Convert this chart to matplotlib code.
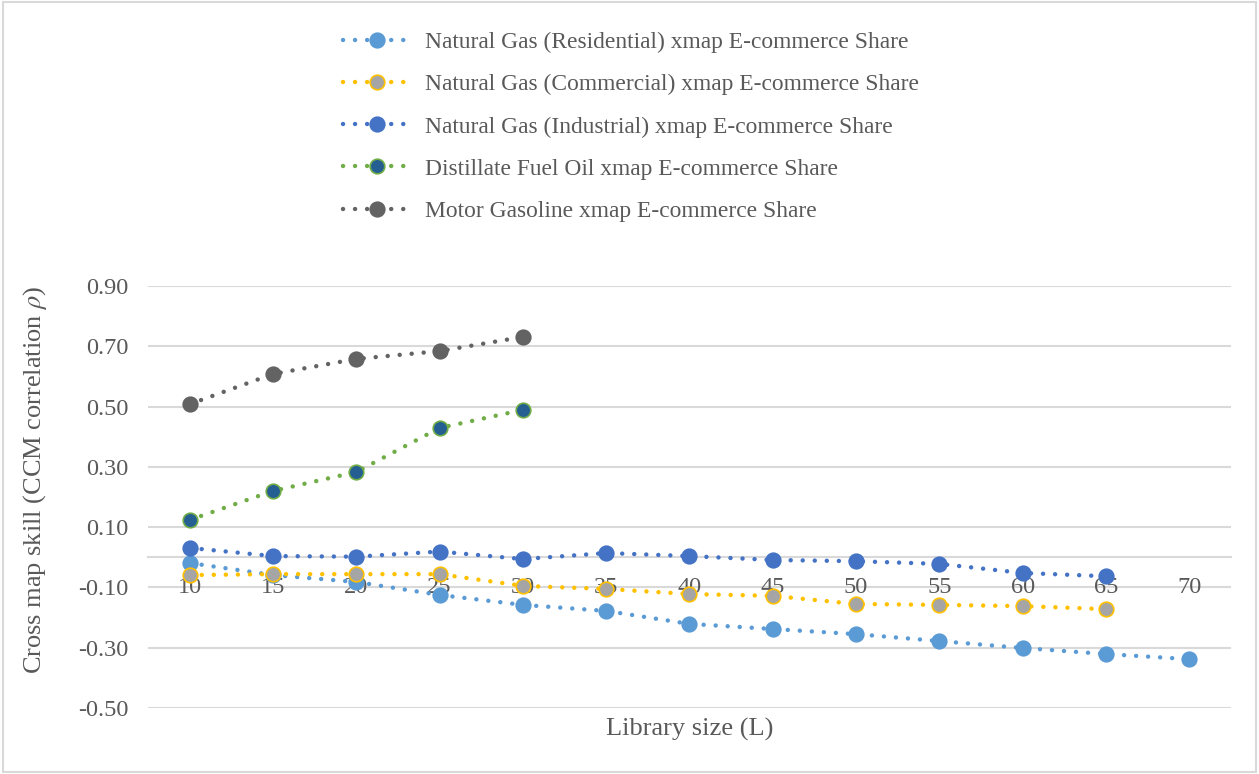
import matplotlib.pyplot as plt
from matplotlib.patches import Rectangle

plt.rcParams['font.family'] = ['Liberation Serif', 'DejaVu Serif']
plt.rcParams['mathtext.fontset'] = 'stix'

# library sizes and CCM skill per series
L_long = [10, 15, 20, 25, 30, 35, 40, 45, 50, 55, 60, 65, 70]
L_mid = [10, 15, 20, 25, 30, 35, 40, 45, 50, 55, 60, 65]
L_short = [10, 15, 20, 25, 30]

residential = [-0.019, -0.059, -0.082, -0.125, -0.158, -0.178, -0.221,
               -0.238, -0.255, -0.278, -0.301, -0.321, -0.338]
commercial = [-0.059, -0.056, -0.056, -0.056, -0.095, -0.105, -0.122,
              -0.128, -0.155, -0.158, -0.162, -0.172]
industrial = [0.031, 0.004, 0.002, 0.019, -0.006, 0.014, 0.004,
              -0.009, -0.013, -0.022, -0.052, -0.063]
distillate = [0.124, 0.220, 0.283, 0.429, 0.489]
gasoline = [0.508, 0.608, 0.658, 0.684, 0.731]

series = [
    (L_long, residential, 'Natural Gas (Residential) xmap E-commerce Share', '#5B9BD5', '#5B9BD5'),
    (L_mid, commercial, 'Natural Gas (Commercial) xmap E-commerce Share', '#FFC000', '#A5A5A5'),
    (L_mid, industrial, 'Natural Gas (Industrial) xmap E-commerce Share', '#4472C4', '#4472C4'),
    (L_short, distillate, 'Distillate Fuel Oil xmap E-commerce Share', '#70AD47', '#255E91'),
    (L_short, gasoline, 'Motor Gasoline xmap E-commerce Share', '#636363', '#636363'),
]

txt = '#595959'
grid = '#D9D9D9'

fig = plt.figure(figsize=(12.59, 7.74), dpi=100)
ax = fig.add_axes([0.1176, 0.0853, 0.86, 0.5452])

for x, y, name, lc, mc in series:
    ax.plot(x, y, color=lc, lw=3.2, linestyle=(0, (0.01, 2.7)),
            dash_capstyle='round', marker='o', markersize=10.5,
            markerfacecolor=mc, markeredgecolor=lc, markeredgewidth=1.2,
            label=name)

ax.set_xlim(7.5, 72.5)
ax.set_ylim(-0.5, 0.9)
ax.set_xticks(L_long)
ax.set_xticklabels([str(v) for v in L_long])
yt = [-0.5, -0.3, -0.1, 0.1, 0.3, 0.5, 0.7, 0.9]
ax.set_yticks(yt)
ax.set_yticklabels(['%.2f' % v for v in yt])
for v in yt:
    ax.axhline(v, color=grid, lw=1.5, zorder=0)

for s in ['top', 'right', 'left']:
    ax.spines[s].set_visible(False)
ax.spines['bottom'].set_position(('data', 0))
ax.spines['bottom'].set_color(grid)
ax.spines['bottom'].set_linewidth(1.5)
ax.spines['bottom'].set_zorder(0)

ax.tick_params(axis='both', length=0, labelsize=17.5, labelcolor=txt)
ax.tick_params(axis='x', pad=14)
ax.tick_params(axis='y', pad=14)

ax.set_xlabel('Library size (L)', fontsize=19, color=txt, va='center')
ax.xaxis.set_label_coords(0.5, -0.05)
ax.set_ylabel(r'Cross map skill (CCM correlation $\rho$)', fontsize=19, color=txt, va='center')
ax.yaxis.set_label_coords(-0.104, 0.54)

fig.legend(loc='upper left', bbox_to_anchor=(0.2557, 0.986), frameon=False,
           fontsize=16.9, labelcolor=txt, numpoints=1, handlelength=2.9,
           handletextpad=0.6, labelspacing=0.88)

fig.patches.append(Rectangle((0.002, 0.002), 0.996, 0.996, transform=fig.transFigure,
                             fill=False, edgecolor=grid, lw=1.5))

fig.savefig('out.png', dpi=100)
